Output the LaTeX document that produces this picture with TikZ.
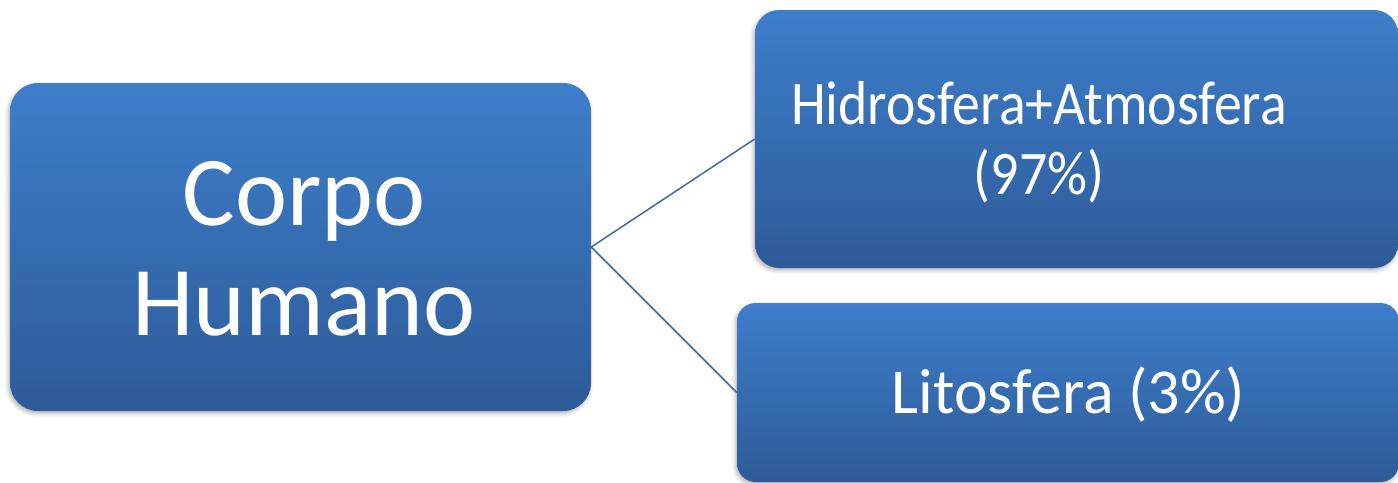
\documentclass[tikz,border=0pt]{standalone}
\usepackage{fontspec}
\setmainfont{Carlito}
\usetikzlibrary{shadows.blur}
\definecolor{boxtop}{RGB}{61,126,203}
\definecolor{boxbot}{RGB}{46,91,152}
\definecolor{linkc}{RGB}{62,103,158}
\newcommand{\narrowtext}[1]{\scalebox{0.9}[1]{#1}}
\tikzset{
  box/.style={rectangle, draw=none, top color=boxtop, bottom color=boxbot,
    inner sep=0pt,
    blur shadow={shadow xshift=-1.2pt, shadow yshift=-1.8pt, shadow blur radius=3pt, shadow opacity=30}},
  bigtxt/.style={text=white, align=center, inner sep=0pt, font=\fontsize{74}{82.5}\selectfont},
  smalltxt/.style={text=white, align=center, inner sep=0pt, font=\fontsize{46.5}{52.5}\selectfont},
  littxt/.style={text=white, inner sep=0pt, font=\fontsize{48}{52.5}\selectfont}
}
\tikzset{link/.style={draw=linkc, line width=1.1pt}}
\begin{document}
\begin{tikzpicture}[x=0.75pt,y=-0.75pt]
\useasboundingbox (0,0) rectangle (1398,482);
\node[box, rounded corners=21pt, minimum width=435.75pt, minimum height=246pt] (L) at (300.5,247) {};
\node[box, rounded corners=18pt, minimum width=482.25pt, minimum height=193.5pt] (H) at (1076.5,139) {};
\node[box, rounded corners=14pt, minimum width=496.5pt, minimum height=134.25pt] (Li) at (1068,392.5) {};
\node[bigtxt] (Lt) at (304,249) {Corpo\\Humano};
\node[smalltxt] (Ht) at (1039,142) {\narrowtext{Hidrosfera+Atmosfera}\\\narrowtext{(97\%)}};
\node[littxt, anchor=base] (Lit) at (1068.5,413) {Litosfera (3\%)};
\draw[link] (L.east) -- (H.west);
\draw[link] (L.east) -- (Li.west);
\end{tikzpicture}
\end{document}
